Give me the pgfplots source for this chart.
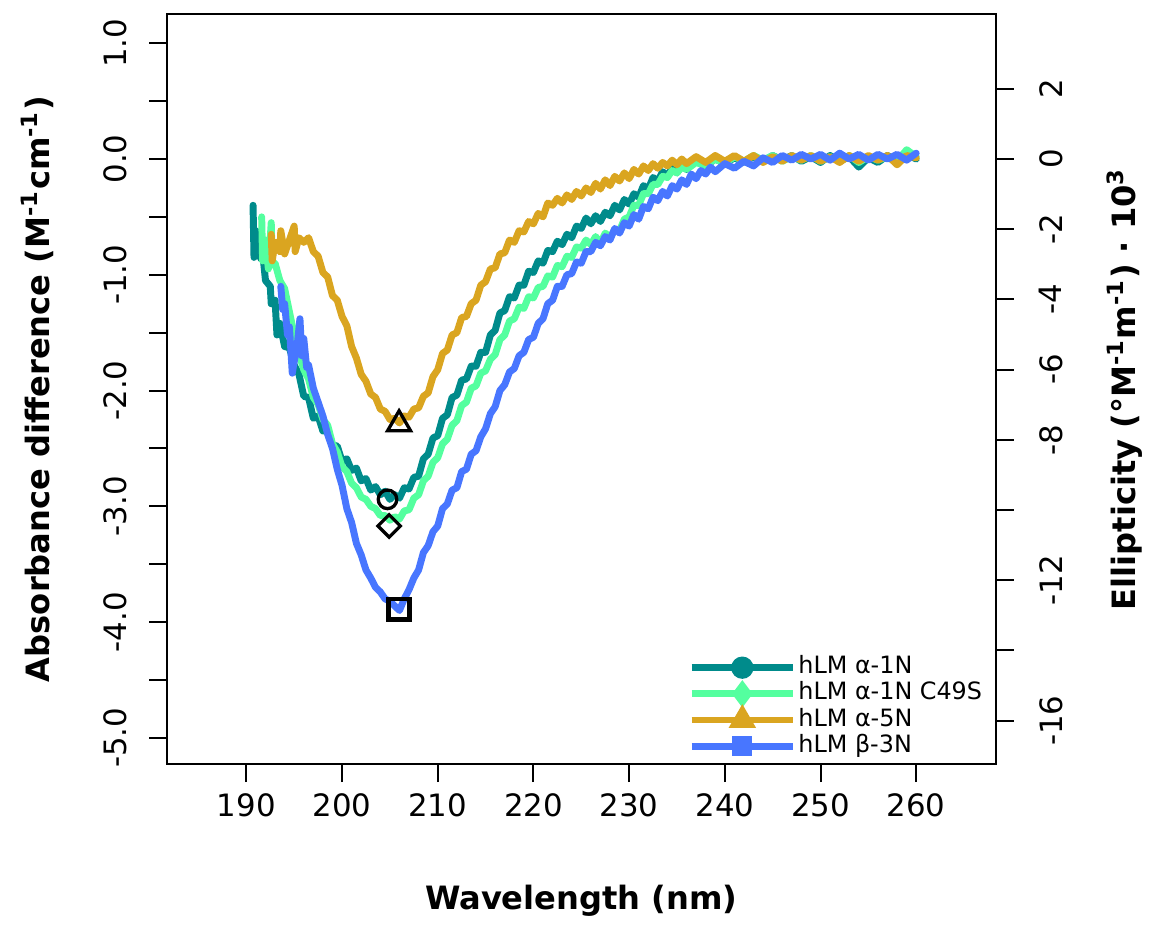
\documentclass[border=0pt]{standalone}
\usepackage{fontspec}
\setmainfont{DejaVu Sans}
\usepackage{pgfplots}
\pgfplotsset{compat=1.18}
\definecolor{c1}{HTML}{008B8B}
\definecolor{c2}{HTML}{54FF9F}
\definecolor{c3}{HTML}{DAA520}
\definecolor{c4}{HTML}{4876FF}
\newcommand\tickfont{\fontsize{9.3}{11}\selectfont}
\newcommand\labfont{\fontsize{9.7}{11.5}\selectfont\bfseries}
\pgfplotsset{
  cd/.style={scale only axis, width=250.2pt, height=226.5pt,
    xmin=181.7, xmax=268.3, tick align=outside, major tick length=5.4pt,
    tick style={black, line width=0.6pt}, axis line style={line width=0.6pt},
    clip=true},
  curve/.style={line width=2.1pt, line join=round, line cap=round, forget plot},
}
\begin{document}
\begin{tikzpicture}
\begin{axis}[cd, name=main,
  ymin=-5.227, ymax=1.253,
  xtick pos=bottom, ytick pos=left,
  xtick={190,200,210,220,230,240,250,260},
  xticklabels={190,200,210,220,230,240,250,260},
  xticklabel style={font=\tickfont, anchor=north},
  ytick={-5,-4.5,-4,-3.5,-3,-2.5,-2,-1.5,-1,-0.5,0,0.5,1},
  yticklabels={-5.0,,-4.0,,-3.0,,-2.0,,-1.0,,0.0,,1.0},
  yticklabel style={font=\tickfont, xshift=-3pt, rotate=90, anchor=south},
  legend style={at={(rel axis cs:0.629,0.146)}, anchor=north west,
    draw=none, fill=none, inner sep=0pt, outer sep=0pt, row sep=0pt,
    font=\fontsize{7.2}{7.7}\selectfont,
    nodes={inner sep=0.6pt, text height=5.2pt, text depth=1.5pt}},
  legend cell align=left,
  legend image code/.code={\draw[mark repeat=2,mark phase=2,#1]
    plot coordinates {(0pt,0pt)(15.3pt,0pt)(30.6pt,0pt)};},
]
\addlegendimage{c1, line width=2.1pt, mark=*, mark size=2.3pt}
\addlegendentry{hLM α-1N}
\addlegendimage{c2, line width=2.1pt, mark=diamond*, mark size=2.4pt}
\addlegendentry{hLM α-1N C49S}
\addlegendimage{c3, line width=2.1pt, mark=triangle*, mark size=2.7pt}
\addlegendentry{hLM α-5N}
\addlegendimage{c4, line width=2.1pt, mark=square*, mark size=2.0pt}
\addlegendentry{hLM β-3N}

% hLM alpha-1N
\addplot[c1, curve] coordinates {
(190.7,-0.40)(190.8,-0.85)(191.0,-0.62)(191.5,-0.86)(191.6,-0.72)(192.0,-1.05)(192.5,-1.10)(192.6,-1.25)
(193.0,-1.22)(193.2,-1.52)(193.5,-1.42)(194.0,-1.62)(194.5,-1.63)(195.0,-1.78)(195.5,-1.86)(196.0,-2.05)
(196.5,-2.06)(197.0,-2.24)(197.5,-2.22)(198.0,-2.35)(198.5,-2.34)(199.0,-2.47)(199.5,-2.48)(200.0,-2.61)
(200.5,-2.59)(201.0,-2.69)(201.5,-2.67)(202.0,-2.78)(202.5,-2.76)(203.0,-2.86)(203.5,-2.83)(204.0,-2.90)
(204.5,-2.87)(205.0,-2.94)(205.5,-2.90)(206.0,-2.93)(206.5,-2.84)(207.0,-2.85)(207.5,-2.75)(208.0,-2.74)
(208.5,-2.59)(209.0,-2.55)(209.5,-2.41)(210.0,-2.39)(210.5,-2.24)(211.0,-2.21)(211.5,-2.06)(212.0,-2.04)
(212.5,-1.91)(213.0,-1.90)(213.5,-1.79)(214.0,-1.79)(214.5,-1.67)(215.0,-1.67)(215.5,-1.52)(216.0,-1.48)
(216.5,-1.33)(217.0,-1.31)(217.5,-1.19)(218.0,-1.20)(218.5,-1.09)(219.0,-1.09)(219.5,-0.97)(220.0,-0.98)
(220.5,-0.88)(221.0,-0.90)(221.5,-0.79)(222.0,-0.80)(222.5,-0.71)(223.0,-0.74)(223.5,-0.65)(224.0,-0.68)
(224.5,-0.58)(225.0,-0.60)(225.5,-0.51)(226.0,-0.56)(226.5,-0.49)(227.0,-0.54)(227.5,-0.46)(228.0,-0.49)
(228.5,-0.40)(229.0,-0.44)(229.5,-0.35)(230.0,-0.39)(230.5,-0.30)(231.0,-0.33)(231.5,-0.23)(232.0,-0.26)
(232.5,-0.16)(233.0,-0.19)(233.5,-0.11)(234.0,-0.15)(234.5,-0.07)(235.0,-0.12)(235.5,-0.05)(236.0,-0.09)
(237,-0.02)(238,-0.06)(239,0.00)(240,-0.04)(241,0.01)(242,-0.03)(243,0.02)(244,-0.02)(245,0.03)(246,-0.01)
(247,0.03)(248,-0.02)(249,0.02)(250,-0.03)(251,0.03)(252,-0.02)(253,0.02)(254,-0.07)(255,0.01)(256,-0.03)
(257,0.03)(258,-0.02)(259,0.04)(260,0.00)
};
% hLM alpha-1N C49S
\addplot[c2, curve] coordinates {
(191.6,-0.50)(191.7,-0.88)(192.0,-0.70)(192.3,-0.95)(192.6,-0.55)(192.7,-0.92)(193.0,-0.90)(193.5,-1.05)
(194.0,-1.12)(194.5,-1.32)(195.0,-1.52)(195.5,-1.68)(196.0,-1.82)(196.5,-1.90)(197.0,-2.06)(197.5,-2.12)
(198.0,-2.25)(198.5,-2.30)(199.0,-2.46)(199.5,-2.53)(200.0,-2.66)(200.5,-2.70)(201.0,-2.80)(201.5,-2.84)
(202.0,-2.92)(202.5,-2.94)(203.0,-3.00)(203.5,-3.02)(204.0,-3.08)(204.5,-3.08)(205.0,-3.12)(205.5,-3.09)
(206.0,-3.11)(206.5,-3.04)(207.0,-3.03)(207.5,-2.93)(208.0,-2.90)(208.5,-2.78)(209.0,-2.74)(209.5,-2.62)
(210.0,-2.58)(210.5,-2.46)(211.0,-2.42)(211.5,-2.30)(212.0,-2.26)(212.5,-2.13)(213.0,-2.10)(213.5,-1.98)
(214.0,-1.96)(214.5,-1.85)(215.0,-1.83)(215.5,-1.73)(216.0,-1.69)(216.5,-1.56)(217.0,-1.52)(217.5,-1.40)
(218.0,-1.38)(218.5,-1.28)(219.0,-1.29)(219.5,-1.19)(220.0,-1.20)(220.5,-1.11)(221.0,-1.10)(221.5,-1.01)
(222.0,-1.02)(222.5,-0.92)(223.0,-0.93)(223.5,-0.84)(224.0,-0.85)(224.5,-0.76)(225.0,-0.77)(225.5,-0.70)
(226.0,-0.74)(226.5,-0.67)(227.0,-0.73)(227.5,-0.64)(228.0,-0.68)(228.5,-0.61)(229.0,-0.62)(229.5,-0.52)
(230.0,-0.50)(230.5,-0.40)(231.0,-0.40)(231.5,-0.30)(232.0,-0.30)(232.5,-0.22)(233.0,-0.22)(233.5,-0.15)
(234.0,-0.16)(234.5,-0.10)(235.0,-0.12)(235.5,-0.07)(236.0,-0.09)(237,-0.03)(238,-0.06)(239,0.00)
(240,-0.04)(241,0.02)(242,-0.02)(243,0.03)(244,-0.01)(245,0.03)(246,-0.02)(247,0.02)(248,-0.01)(249,0.03)
(250,-0.02)(251,0.02)(252,-0.02)(253,0.03)(254,-0.03)(255,0.02)(256,-0.01)(257,0.02)(258,-0.02)(259,0.08)
(260,0.02)
};
% hLM alpha-5N
\addplot[c3, curve] coordinates {
(192.6,-0.65)(192.7,-0.88)(193.0,-0.72)(193.5,-0.80)(193.6,-0.62)(194.0,-0.82)(194.5,-0.70)(195.0,-0.58)
(195.1,-0.80)(195.5,-0.68)(196.0,-0.72)(196.5,-0.68)(197.0,-0.80)(197.5,-0.84)(198.0,-0.98)(198.5,-1.02)
(199.0,-1.18)(199.5,-1.22)(200.0,-1.36)(200.5,-1.44)(201.0,-1.62)(201.5,-1.72)(202.0,-1.86)(202.5,-1.92)
(203.0,-2.03)(203.5,-2.06)(204.0,-2.16)(204.5,-2.18)(205.0,-2.25)(205.5,-2.24)(206.0,-2.28)(206.5,-2.22)
(207.0,-2.23)(207.5,-2.16)(208.0,-2.15)(208.5,-2.05)(209.0,-2.02)(209.5,-1.88)(210.0,-1.82)(210.5,-1.68)
(211.0,-1.65)(211.5,-1.52)(212.0,-1.50)(212.5,-1.37)(213.0,-1.36)(213.5,-1.25)(214.0,-1.22)(214.5,-1.09)
(215.0,-1.06)(215.5,-0.95)(216.0,-0.94)(216.5,-0.82)(217.0,-0.81)(217.5,-0.70)(218.0,-0.72)(218.5,-0.62)
(219.0,-0.63)(219.5,-0.54)(220.0,-0.56)(220.5,-0.47)(221.0,-0.50)(221.5,-0.38)(222.0,-0.40)(222.5,-0.34)
(223.0,-0.38)(223.5,-0.31)(224.0,-0.35)(224.5,-0.28)(225.0,-0.32)(225.5,-0.25)(226.0,-0.29)(226.5,-0.21)
(227.0,-0.26)(227.5,-0.18)(228.0,-0.23)(228.5,-0.15)(229.0,-0.19)(229.5,-0.12)(230.0,-0.17)(230.5,-0.09)
(231.0,-0.13)(231.5,-0.06)(232.0,-0.10)(232.5,-0.04)(233.0,-0.08)(233.5,-0.03)(234.0,-0.06)(234.5,-0.01)
(235.0,-0.05)(235.5,0.00)(236.0,-0.04)(237,0.02)(238,-0.03)(239,0.03)(240,-0.02)(241,0.03)(242,-0.02)
(243,0.03)(244,-0.03)(245,0.02)(246,-0.02)(247,0.03)(248,-0.01)(249,0.03)(250,-0.02)(251,0.02)(252,-0.03)
(253,0.03)(254,-0.02)(255,0.03)(256,-0.01)(257,0.03)(258,-0.05)(259,0.03)(260,0.01)
};
% hLM beta-3N
\addplot[c4, curve] coordinates {
(193.6,-1.10)(193.8,-1.30)(194.0,-1.25)(194.3,-1.52)(194.5,-1.45)(194.8,-1.85)(195.0,-1.75)(195.3,-1.62)
(195.6,-1.38)(195.8,-1.70)(196.0,-1.55)(196.3,-1.80)(196.5,-1.78)(197.0,-1.98)(197.5,-2.10)(198.0,-2.22)
(198.5,-2.38)(199.0,-2.50)(199.5,-2.68)(200.0,-2.82)(200.5,-3.02)(201.0,-3.14)(201.5,-3.32)(202.0,-3.42)
(202.5,-3.55)(203.0,-3.62)(203.5,-3.70)(204.0,-3.74)(204.5,-3.80)(205.0,-3.82)(205.5,-3.86)(206.0,-3.90)
(206.5,-3.80)(207.0,-3.72)(207.5,-3.62)(208.0,-3.55)(208.5,-3.40)(209.0,-3.34)(209.5,-3.22)(210.0,-3.17)
(210.5,-3.02)(211.0,-2.98)(211.5,-2.86)(212.0,-2.84)(212.5,-2.70)(213.0,-2.68)(213.5,-2.55)(214.0,-2.52)
(214.5,-2.40)(215.0,-2.33)(215.5,-2.20)(216.0,-2.14)(216.5,-2.00)(217.0,-1.95)(217.5,-1.84)(218.0,-1.81)
(218.5,-1.70)(219.0,-1.67)(219.5,-1.56)(220.0,-1.54)(220.5,-1.42)(221.0,-1.38)(221.5,-1.25)(222.0,-1.22)
(222.5,-1.10)(223.0,-1.10)(223.5,-1.00)(224.0,-0.99)(224.5,-0.89)(225.0,-0.90)(225.5,-0.80)(226.0,-0.80)
(226.5,-0.72)(227.0,-0.75)(227.5,-0.67)(228.0,-0.70)(228.5,-0.60)(229.0,-0.64)(229.5,-0.55)(230.0,-0.58)
(230.5,-0.48)(231.0,-0.52)(231.5,-0.41)(232.0,-0.43)(232.5,-0.33)(233.0,-0.36)(233.5,-0.28)(234.0,-0.32)
(234.5,-0.23)(235.0,-0.26)(235.5,-0.18)(236.0,-0.22)(236.5,-0.13)(237.0,-0.17)(237.5,-0.10)(238.0,-0.13)
(238.5,-0.07)(239.0,-0.11)(240,-0.04)(241,-0.08)(242,-0.02)(243,-0.06)(244,0.01)(245,-0.03)(246,0.03)
(247,-0.01)(248,0.04)(249,0.00)(250,0.04)(251,-0.01)(252,0.05)(253,0.00)(254,0.04)(255,-0.01)(256,0.04)
(257,0.00)(258,0.04)(259,-0.01)(260,0.05)
};
% minima markers
\addplot[black, only marks, mark=o, mark size=2.8pt, line width=1.0pt, forget plot] coordinates {(204.75,-2.94)};
\addplot[black, only marks, mark=square, mark size=2.4pt, mark options={rotate=45}, line width=1.0pt, forget plot] coordinates {(204.92,-3.17)};
\addplot[black, only marks, mark=triangle, mark size=4pt, line width=1.0pt, forget plot] coordinates {(205.96,-2.29)};
\addplot[black, only marks, mark=square, mark size=3.1pt, line width=1.4pt, forget plot] coordinates {(205.96,-3.89)};
\end{axis}

\begin{axis}[cd,
  ymin=-17.239, ymax=4.132,
  axis x line=none, axis y line*=right, tick align=outside,
  ytick={-16,-14,-12,-10,-8,-6,-4,-2,0,2},
  yticklabels={-16,,-12,,-8,-6,-4,-2,0,2},
  yticklabel style={font=\tickfont, xshift=4.2pt, rotate=90, anchor=north},
]
\end{axis}

\node[font=\labfont] at ([yshift=-41.4pt]main.south) {Wavelength (nm)};
\node[font=\labfont, rotate=90] at ([xshift=-39pt]main.west)
  {Absorbance difference (M\textsuperscript{-1}cm\textsuperscript{-1})};
\node[font=\labfont, rotate=90] at ([xshift=38.8pt]main.east)
  {Ellipticity (°M\textsuperscript{-1}m\textsuperscript{-1}) · 10\textsuperscript{3}};
\path ([shift={(-50.4pt,-48pt)}]main.south west) rectangle ([shift={(45.3pt,4.2pt)}]main.north east);
\end{tikzpicture}
\end{document}
